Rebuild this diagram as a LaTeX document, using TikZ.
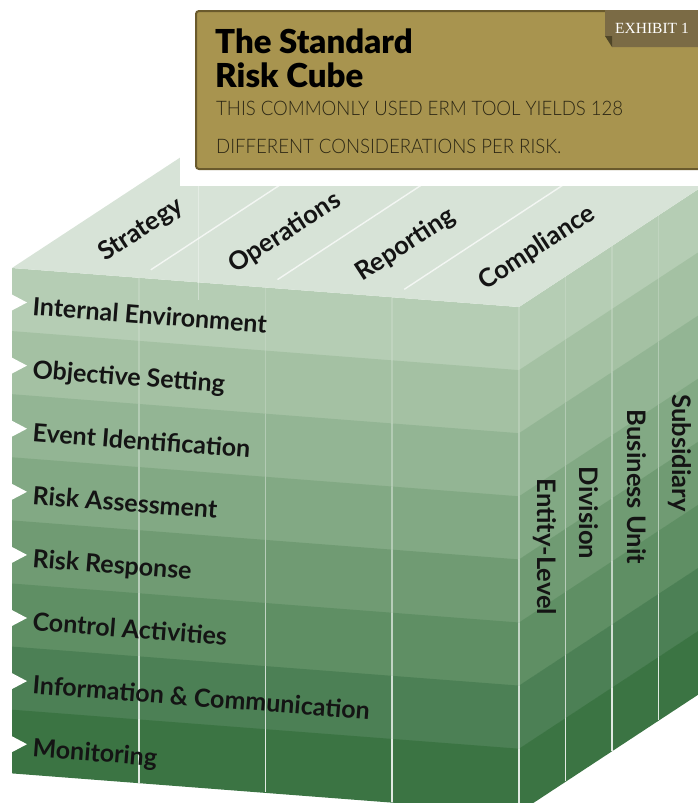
\documentclass[tikz,border=0pt]{standalone}
\usepackage{fontspec}
\setmainfont{Lato}
\newfontfamily\latoblack{Lato Black}
\newfontfamily\latolight{Lato Light}[FakeStretch=0.93]
\newfontfamily\exfont{Liberation Serif}
\definecolor{ra}{HTML}{B5CDB4}
\definecolor{rb}{HTML}{A4C1A3}
\definecolor{rc}{HTML}{93B594}
\definecolor{rd}{HTML}{82A984}
\definecolor{re}{HTML}{709B73}
\definecolor{rf}{HTML}{5F8F64}
\definecolor{rg}{HTML}{4C8055}
\definecolor{rh}{HTML}{3B7443}
\definecolor{topc}{HTML}{D7E3D7}
\definecolor{boxc}{HTML}{A8944F}
\definecolor{boxb}{HTML}{6A5A2C}
\definecolor{tabc}{HTML}{7B6B45}
\definecolor{foldc}{HTML}{4F4527}
\definecolor{ink}{HTML}{141414}
\definecolor{subink}{HTML}{2B2614}
\tikzset{
  rowlabel/.style={anchor=base west, inner sep=0pt, text=ink, rotate=-4.4,
    font=\bfseries\fontsize{25}{25}\selectfont},
  toplabel/.style={anchor=center, inner sep=0pt, text=ink, rotate=33,
    font=\bfseries\fontsize{25.5}{25.5}\selectfont},
  sidelabel/.style={anchor=center, inner sep=0pt, text=ink, rotate=-90,
    font=\bfseries\fontsize{25.5}{25.5}\selectfont},
  gridline/.style={white, line width=1.6pt},
}
\begin{document}
\begin{tikzpicture}[x=1pt,y=-1pt]
\useasboundingbox (0,0) rectangle (698,803);
% front and right faces, row by row
\foreach \k/\c in {0/ra,1/rb,2/rc,3/rd,4/re,5/rf,6/rg,7/rh}{
  \fill[\c] (12,{268+63.1*\k}) -- (519,{307+63.1*\k}) -- (519,{307.6+63.1*(\k+1)}) -- (12,{268.6+63.1*(\k+1)}) -- cycle;
  \fill[\c] (519,{307+63.1*\k}) -- (705,{184.8+63.1*\k}) -- (705,{185.4+63.1*(\k+1)}) -- (519,{307.6+63.1*(\k+1)}) -- cycle;
}
% top face
\fill[topc] (12,268) -- (519,307) -- (705,184.8) -- (198,145.8) -- cycle;
% top face column lines
\foreach \k in {1,2,3}{
  \draw[white, opacity=0.7, line width=1.4pt] ({12+126.75*\k+12},{268+9.75*\k-7.9}) -- ({198+126.75*\k},{145.8+9.75*\k});
}
% faint back edge
\draw[white, opacity=0.35, line width=1pt] (198,186) -- (198,300);
% vertical grid lines on front and right faces
\foreach \r/\o in {0/0.15,1/0.2,2/0.3,3/0.4,4/0.5,5/0.62,6/0.75,7/0.85}{
  \foreach \k in {1,2,3}{
    \draw[gridline, opacity=\o] ({12+126.75*\k},{268+9.75*\k+63.1*\r}) -- ++(0,63.1);
  }
  \foreach \j in {0,1,2,3}{
    \draw[gridline, opacity=\o] ({519+46.5*\j},{307-30.55*\j+63.1*\r}) -- ++(0,63.1);
  }
}
% notches on the left edge
\foreach \k in {0,...,7}{
  \fill[white] (9,{293+63.1*\k}) -- (27,{302.5+63.1*\k}) -- (9,{312+63.1*\k}) -- cycle;
}
% row labels
\node[rowlabel] (l1) at (32,315) {Internal Environment};
\node[rowlabel] (l2) at (32,378.1) {Objective Setting};
\node[rowlabel] (l3) at (32,441.2) {Event Identification};
\node[rowlabel] (l4) at (32,504.3) {Risk Assessment};
\node[rowlabel] (l5) at (32,567.4) {Risk Response};
\node[rowlabel] (l6) at (32,630.5) {Control Activities};
\node[rowlabel] (l7) at (32,693.6) {Information \& Communication};
\node[rowlabel] (l8) at (32,756.7) {Monitoring};
% top labels
\node[toplabel] (c1) at (141,230) {Strategy};
\node[toplabel] (c2) at (285,233) {Operations};
\node[toplabel] (c3) at (406,245) {Reporting};
\node[toplabel] (c4) at (537,248) {Compliance};
% side labels
\node[sidelabel] (s1) at (545,547) {Entity-Level};
\node[sidelabel] (s2) at (589,513) {Division};
\node[sidelabel] (s3) at (637,487) {Business Unit};
\node[sidelabel] (s4) at (680,453) {Subsidiary};
% white cut-out and title box
\fill[white] (180,-5) rectangle (712,186);
\draw[fill=boxc, draw=boxb, line width=2pt, rounded corners=3pt] (196,11) rectangle (715,169);
\fill[tabc] (605,10) -- (712,10) -- (712,47) -- (612,47) -- (612,36) -- (605,36) -- cycle;
\fill[foldc] (605,36) -- (612,36) -- (612,47) -- cycle;
\node[text=white, inner sep=0pt, font=\exfont\fontsize{15.5}{15.5}\selectfont] (ex) at (652,28) {EXHIBIT 1};
\node[anchor=base west, inner sep=0pt, text=black, font=\latoblack\fontsize{33}{33}\selectfont] (t1) at (215,53) {The Standard};
\node[anchor=base west, inner sep=0pt, text=black, font=\latoblack\fontsize{33}{33}\selectfont] (t2) at (215,87) {Risk Cube};
\node[anchor=base west, inner sep=0pt, text=subink, font=\latolight\fontsize{20}{20}\selectfont] (st1) at (216,115) {THIS COMMONLY USED ERM TOOL YIELDS 128};
\node[anchor=base west, inner sep=0pt, text=subink, font=\latolight\fontsize{20}{20}\selectfont] (st2) at (216,153) {DIFFERENT CONSIDERATIONS PER RISK.};
\end{tikzpicture}
\end{document}
